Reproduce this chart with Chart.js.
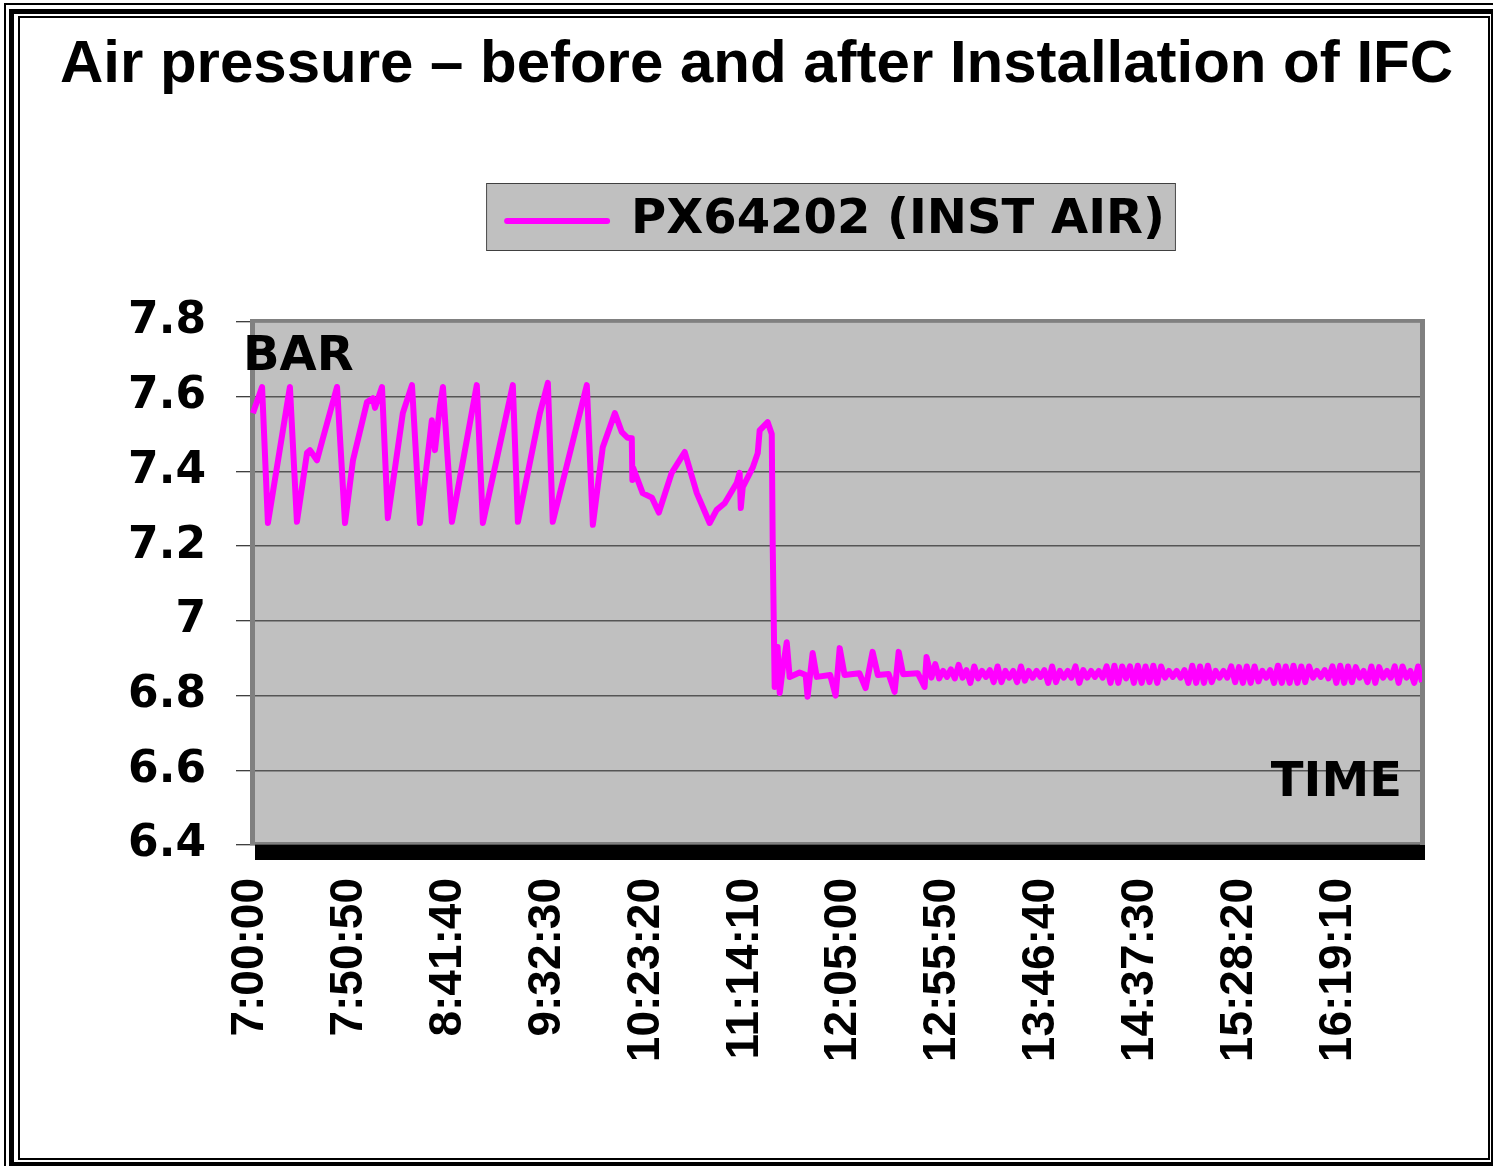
<!DOCTYPE html>
<html>
<head>
<meta charset="utf-8">
<script src="https://cdn.jsdelivr.net/npm/chart.js@4/dist/chart.umd.min.js"></script>
<style>
    body { margin: 0; background: #fff; width: 1493px; height: 1166px; overflow: hidden; position: relative; }
    canvas { position: absolute; left: 0; top: 0; }
    .frame { position: absolute; box-sizing: border-box; border-style: solid; border-color: #000; pointer-events: none; }
</style>
</head>
<body>
<canvas id="chart" width="1493" height="1166"></canvas>
<div class="frame" style="left:4px; top:3px; width:1600px; height:1300px; border-width:2px;"></div>
<div class="frame" style="left:9px; top:9px; width:1487px; height:1158px; border-width:5px;"></div>
<div class="frame" style="left:18px; top:16px; width:1472px; height:1144px; border-width:2px;"></div>
<script>
const chartTitle = 'Air pressure \u2013 before and after Installation of IFC';
const seriesName = 'PX64202 (INST AIR)';

// x tick labels (clock time), first one is 7:00:00
const tickLabels = ['7:00:00', '7:50:50', '8:41:40', '9:32:30', '10:23:20', '11:14:10',
    '12:05:00', '12:55:50', '13:46:40', '14:37:30', '15:28:20', '16:19:10'];

// minutes after 7:00 and pressure (bar) at the corners of the trace
const cornerMin = [1.5, 6.2, 9.2, 20.5, 24.1, 29.3, 30.8, 34.4, 37.0, 44.7, 48.8, 52.9, 60.1, 63.1, 64.2,
    67.8, 70.8, 78.5, 83.2, 87.3, 93.4, 95.0, 97.5, 99.1, 103.7, 116.5, 119.6, 135.0, 137.6, 148.9,
    153.0, 155.5, 173.0, 176.1, 181.2, 187.4, 191.0, 194.0, 196.1, 196.4, 196.8, 201.7, 206.4, 210.0,
    216.6, 223.3, 229.5, 236.1, 239.7, 243.8, 250.0, 251.5, 252.1, 253.1, 258.2, 260.8, 261.8, 265.9,
    268.0, 268.5, 269.5, 271.0, 272.1, 273.6, 275.7, 277.2, 282.3, 285.4, 286.4, 289.0, 291.1, 298.0,
    300.8, 302.9, 305.4, 313.0, 316.2, 319.8, 322.5, 328.0, 331.1, 333.2, 335.5, 343.0, 346.5, 347.5];
const cornerBar = [7.556, 7.626, 7.262, 7.626, 7.265, 7.45, 7.457, 7.43, 7.48, 7.626, 7.262, 7.43, 7.586, 7.596, 7.57,
    7.626, 7.275, 7.556, 7.631, 7.262, 7.537, 7.457, 7.573, 7.626, 7.265, 7.631, 7.262, 7.631, 7.265, 7.556,
    7.637, 7.265, 7.631, 7.257, 7.465, 7.556, 7.505, 7.49, 7.489, 7.377, 7.41, 7.342, 7.33, 7.29,
    7.396, 7.452, 7.342, 7.262, 7.297, 7.315, 7.369, 7.396, 7.302, 7.358, 7.41, 7.449, 7.51, 7.532,
    7.5, 7.2, 6.823, 6.93, 6.807, 6.87, 6.943, 6.85, 6.862, 6.855, 6.797, 6.914, 6.85, 6.855,
    6.80, 6.927, 6.855, 6.86, 6.82, 6.917, 6.855, 6.858, 6.81, 6.917, 6.857, 6.86, 6.823, 6.903];

// the steady part after the drop, one reading every 2 minutes from 7:00 + 350 min
const flatStartMin = 350;
const flatStepMin = 2;
const flatBar = [6.848, 6.884, 6.846, 6.866, 6.85, 6.87, 6.846, 6.882, 6.848, 6.868,
    6.834, 6.878, 6.846, 6.866, 6.85, 6.868, 6.836, 6.878, 6.836, 6.866,
    6.848, 6.866, 6.836, 6.878, 6.84, 6.866, 6.848, 6.866, 6.85, 6.868,
    6.834, 6.878, 6.836, 6.866, 6.848, 6.866, 6.848, 6.878, 6.834, 6.868,
    6.848, 6.866, 6.85, 6.866, 6.848, 6.878, 6.834, 6.88, 6.834, 6.878,
    6.846, 6.878, 6.834, 6.88, 6.834, 6.878, 6.836, 6.88, 6.834, 6.878,
    6.848, 6.866, 6.85, 6.866, 6.848, 6.868, 6.834, 6.88, 6.834, 6.878,
    6.834, 6.88, 6.836, 6.866, 6.848, 6.866, 6.848, 6.878, 6.836, 6.876,
    6.834, 6.878, 6.834, 6.878, 6.838, 6.866, 6.848, 6.868, 6.834, 6.88,
    6.834, 6.878, 6.834, 6.88, 6.834, 6.878, 6.836, 6.878, 6.848, 6.866,
    6.85, 6.868, 6.846, 6.878, 6.834, 6.88, 6.834, 6.878, 6.836, 6.876,
    6.848, 6.866, 6.836, 6.878, 6.834, 6.876, 6.848, 6.866, 6.848, 6.878,
    6.834, 6.878, 6.848, 6.866, 6.834, 6.878, 6.836];

const yMin = 6.4;
const yMax = 7.8;
const yStep = 0.2;

function clockToMin(label) {
    const [h, m, s] = label.split(':').map(Number);
    return h * 60 + m + s / 60 - 7 * 60;
}

const tickMinutes = tickLabels.map(clockToMin);

const points = cornerMin.map((m, i) => ({x: m, y: cornerBar[i]}));
flatBar.forEach((v, i) => points.push({x: flatStartMin + i * flatStepMin, y: v}));
const xMax = points[points.length - 1].x;

const plotFrame = {
    id: 'plotFrame',
    beforeDraw(chart) {
        const {ctx, chartArea: a} = chart;
        ctx.save();
        ctx.fillStyle = '#C0C0C0';
        ctx.fillRect(a.left, a.top, a.right - a.left, a.bottom - a.top);
        // grey legend box
        const hit = chart.legend.legendHitBoxes[0];
        if (hit) {
            const cy = hit.top + hit.height / 2 - 4;
            ctx.fillRect(hit.left - 20, cy - 33, hit.width + 30, 66);
            ctx.strokeStyle = '#404040';
            ctx.lineWidth = 1;
            ctx.strokeRect(hit.left - 20.5, cy - 33.5, hit.width + 31, 67);
        }
        ctx.restore();
    },
    beforeDatasetsDraw(chart) {
        const {ctx, chartArea: a} = chart;
        ctx.save();
        ctx.fillStyle = '#808080';
        ctx.fillRect(a.left, a.top - 3, a.right - a.left, 3);
        ctx.fillRect(a.left, a.top - 3, 5, a.bottom - a.top + 3);
        ctx.fillRect(a.right - 2, a.top - 3, 5, a.bottom - a.top + 3);
        ctx.fillRect(a.left, a.bottom - 3, a.right - a.left, 2);
        ctx.fillStyle = '#000';
        ctx.fillRect(a.left + 5, a.bottom, a.right - a.left - 2, 15);
        ctx.restore();
    },
    afterDatasetsDraw(chart) {
        const {ctx, chartArea: a} = chart;
        const y = chart.scales.y;
        ctx.save();
        ctx.fillStyle = '#000';
        ctx.font = 'bold 48px "DejaVu Sans"';
        ctx.textBaseline = 'middle';
        ctx.textAlign = 'left';
        ctx.fillText('BAR', a.left - 7, y.getPixelForValue(7.705));
        ctx.textAlign = 'right';
        ctx.fillText('TIME', a.right - 20, y.getPixelForValue(6.565));
        ctx.restore();
    }
};

Chart.defaults.color = '#000';

new Chart(document.getElementById('chart').getContext('2d'), {
    type: 'line',
    data: {
        datasets: [{
            label: seriesName,
            data: points,
            borderColor: '#FF00FF',
            backgroundColor: '#FF00FF',
            borderWidth: 6,
            borderJoinStyle: 'round',
            pointRadius: 0,
            tension: 0,
            xAxisID: 'x',
            yAxisID: 'y'
        }]
    },
    options: {
        responsive: false,
        animation: false,
        layout: {padding: {left: 60, right: 40, top: 0, bottom: 0}},
        plugins: {
            title: {
                display: true,
                text: chartTitle,
                color: '#000',
                font: {family: 'Liberation Sans', size: 60, weight: 'bold'},
                padding: {top: 29, bottom: 86}
            },
            legend: {
                position: 'top',
                fullSize: false,
                labels: {
                    color: '#000',
                    font: {family: 'DejaVu Sans', size: 48, weight: 'bold'},
                    boxWidth: 100,
                    boxHeight: 0,
                    padding: 10
                }
            },
            tooltip: {enabled: false}
        },
        scales: {
            x: {
                type: 'linear',
                position: 'bottom',
                min: 0,
                max: xMax,
                afterBuildTicks: (scale) => {
                    scale.ticks = tickMinutes.map((v) => ({value: v}));
                },
                afterFit: (scale) => { scale.height = 321; },
                grid: {display: false, drawTicks: false},
                border: {display: false},
                ticks: {
                    autoSkip: false,
                    minRotation: 90,
                    maxRotation: 90,
                    padding: 33,
                    color: '#000',
                    font: {family: 'Liberation Sans', size: 46, weight: 'bold'},
                    callback: (value, index) => tickLabels[index]
                }
            },
            gap: {
                type: 'linear',
                position: 'top',
                grid: {display: false, drawTicks: false},
                border: {display: false},
                ticks: {display: false},
                afterFit: (scale) => { scale.height = 67; }
            },
            gapRight: {
                type: 'linear',
                position: 'right',
                grid: {display: false, drawTicks: false},
                border: {display: false},
                ticks: {display: false},
                afterFit: (scale) => { scale.width = 31; }
            },
            y: {
                min: yMin,
                max: yMax,
                afterFit: (scale) => { scale.width = 190; },
                grid: {color: '#555', lineWidth: 1.5, tickColor: '#000', tickWidth: 1, tickLength: 14},
                border: {display: false},
                ticks: {
                    stepSize: yStep,
                    padding: 30,
                    color: '#000',
                    font: {family: 'DejaVu Sans', size: 44, weight: 'bold'},
                    callback: (value) => String(Number(value.toFixed(1)))
                }
            }
        }
    },
    plugins: [plotFrame]
});
</script>
</body>
</html>
